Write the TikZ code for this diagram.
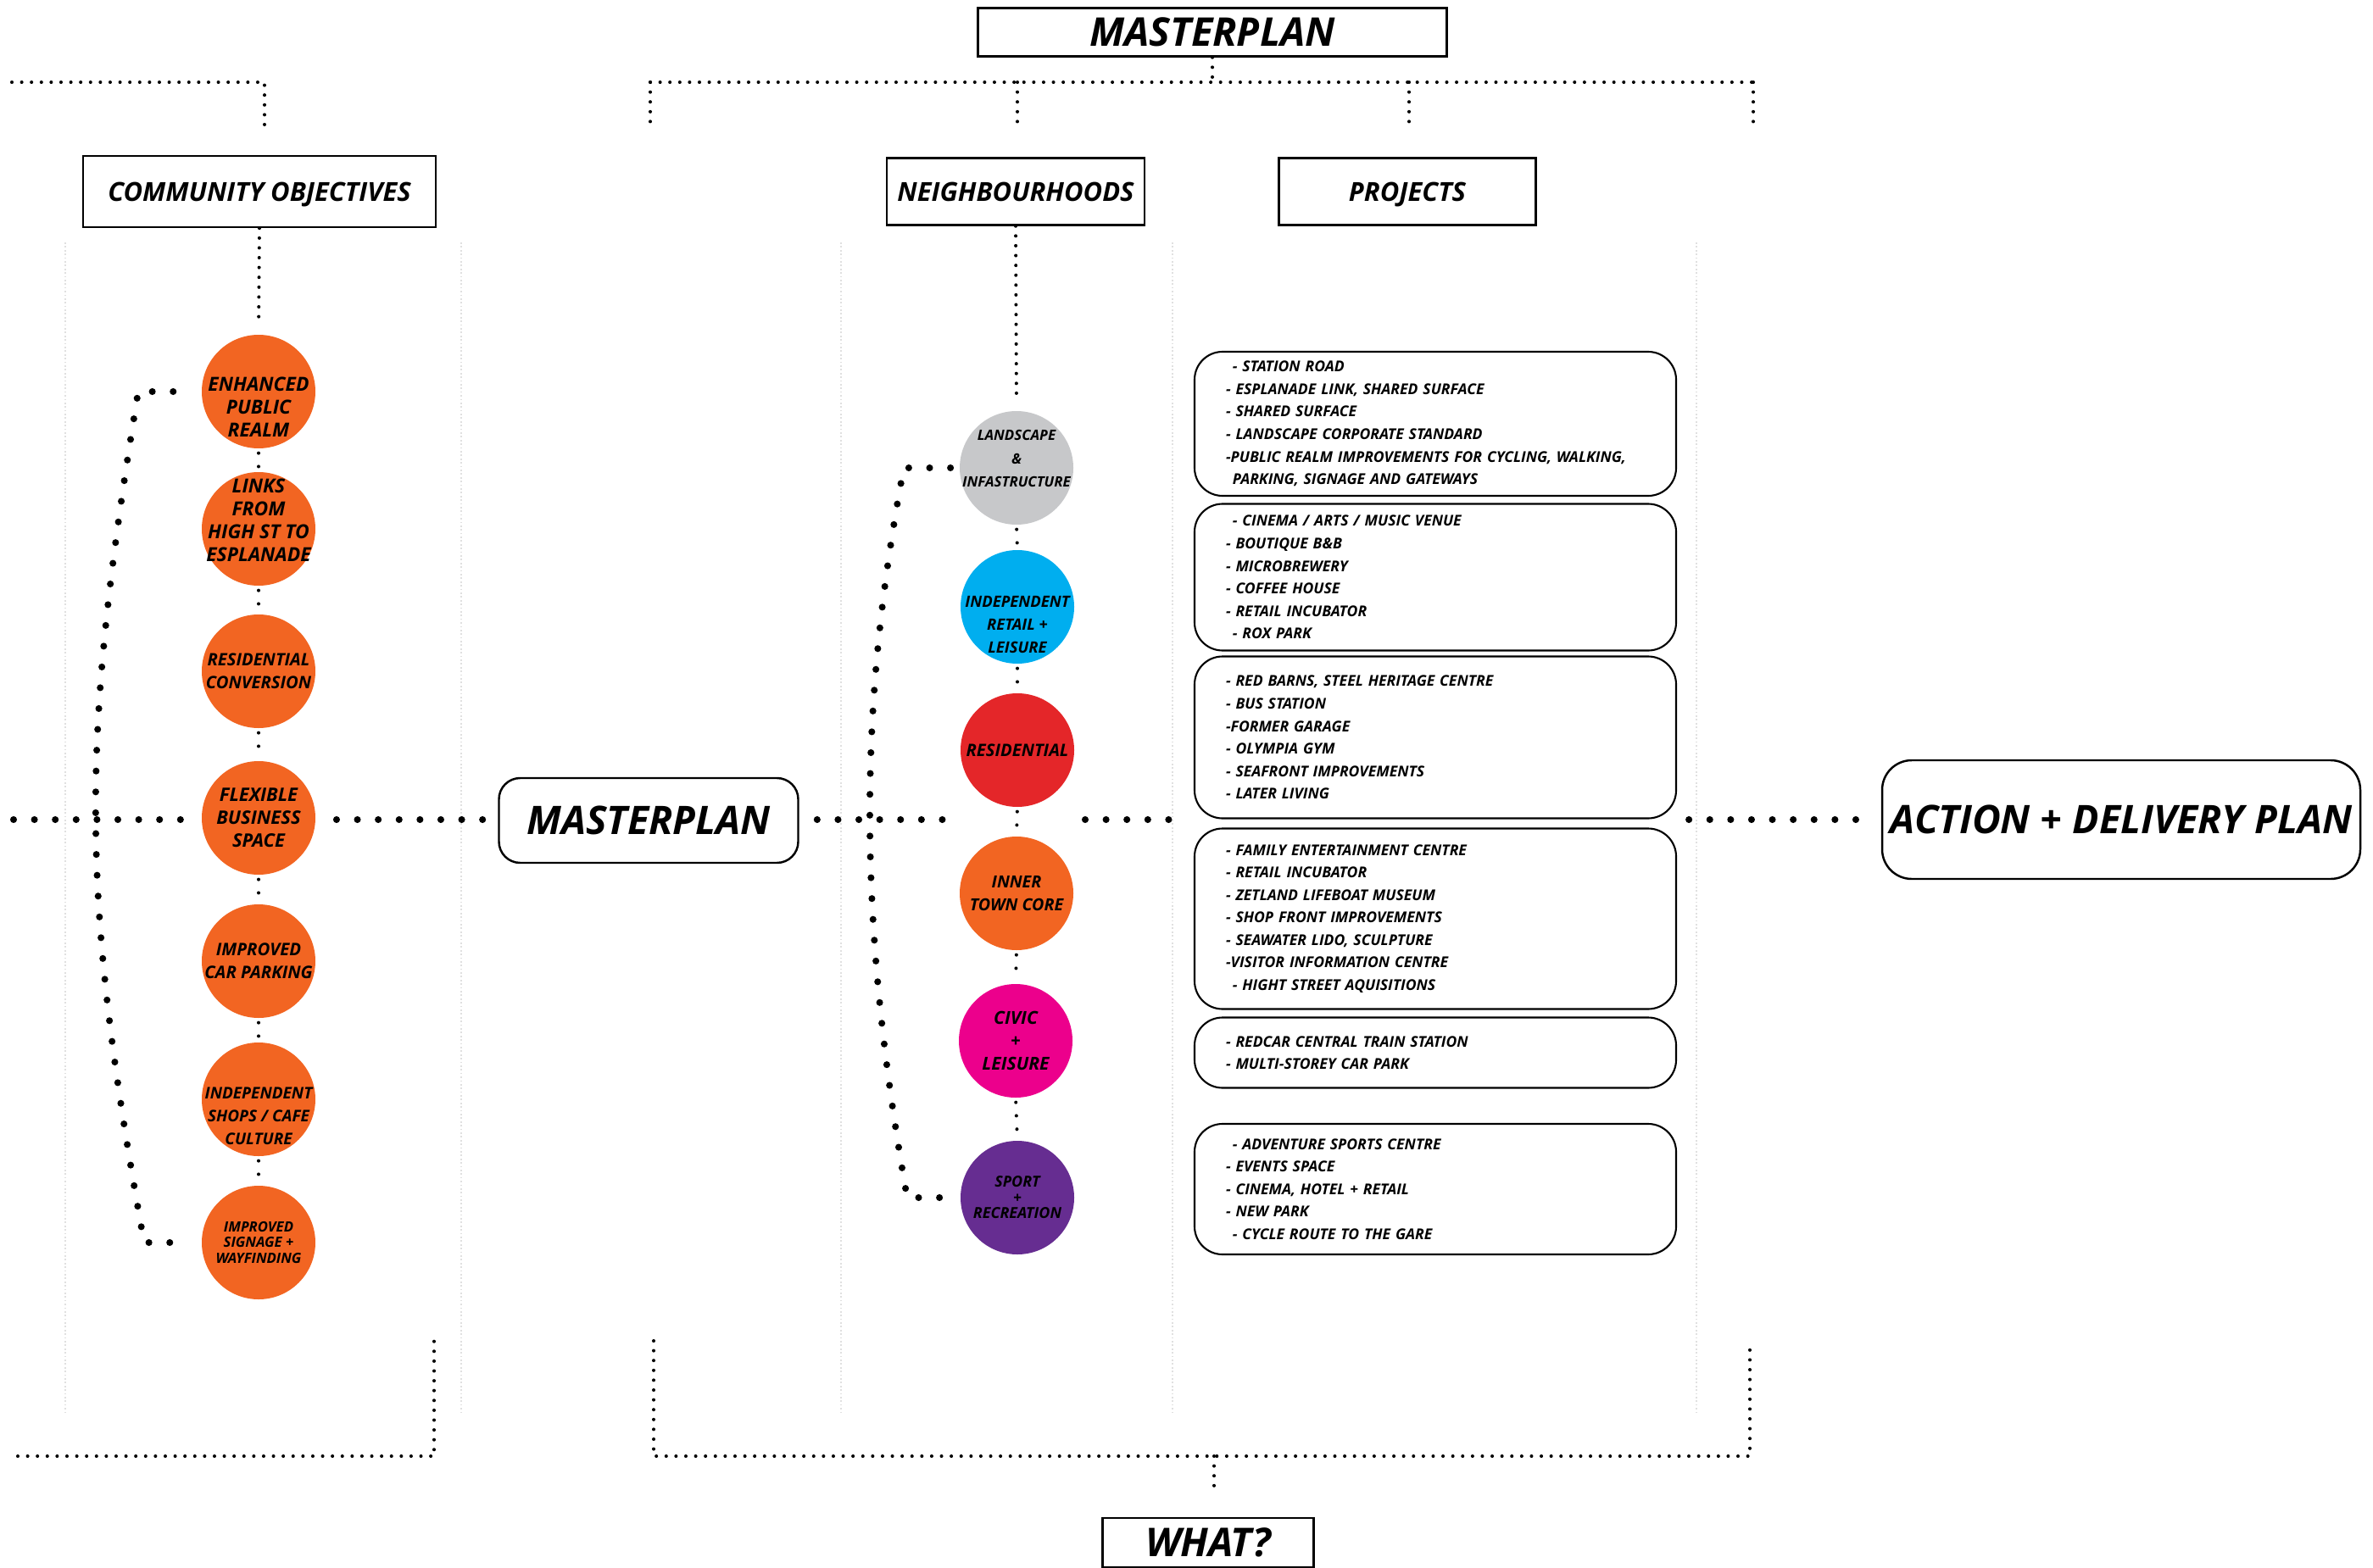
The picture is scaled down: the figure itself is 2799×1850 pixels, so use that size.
\documentclass[tikz,border=0pt]{standalone}
\usepackage{fontspec}
\setmainfont{Open Sans}
\usetikzlibrary{positioning, calc}

\definecolor{orangec}{HTML}{F26522}
\definecolor{greyc}{HTML}{C7C8CA}
\definecolor{bluec}{HTML}{00AEEF}
\definecolor{redc}{HTML}{E42629}
\definecolor{pinkc}{HTML}{EC008C}
\definecolor{purplec}{HTML}{662D91}

\newcommand{\pind}{\hspace*{0.45em}}
\newcommand{\circfont}[1]{\bfseries\itshape\fontsize{#1}{15.4}\selectfont}

\begin{document}
\begin{tikzpicture}[x=0.2mm, y=-0.2mm,
    hdr/.style={draw, rectangle, line width=1.4pt, inner sep=0pt, text depth=0pt, align=center, font=\bfseries\itshape\fontsize{17.6}{20}\selectfont},
    bighdr/.style={hdr, font=\bfseries\itshape\fontsize{26.6}{30}\selectfont},
    roundbox/.style={draw, rectangle, line width=1.4pt, rounded corners=5mm, inner sep=0pt, text depth=0pt, align=center, font=\bfseries\itshape\fontsize{26.4}{30}\selectfont},
    circ/.style={circle, minimum size=26.8mm, inner sep=0pt, align=center, font=\circfont{11}},
    circtext/.style={align=center, inner sep=0pt},
    projbox/.style={draw, rectangle, line width=1.2pt, rounded corners=6.6mm, minimum width=113.6mm, text width=98.8mm, inner xsep=7.4mm, inner ysep=0pt, align=left, font=\bfseries\itshape\fontsize{10}{15.1}\selectfont},
    bigdots/.style={line width=4.6pt, line cap=round, dash pattern=on 0pt off 14pt},
    smalldots/.style={line width=2.3pt, line cap=round, dash pattern=on 0pt off 6.6pt},
    linkdots/.style={line width=2.3pt, line cap=round, dash pattern=on 0pt off 9pt, shorten <=3pt, shorten >=3pt},
    sepline/.style={black!12, line width=0.6pt, dash pattern=on 1pt off 1.5pt}
  ]

  \useasboundingbox (0,0) rectangle (2799,1850);

  % column separators
  \foreach \sx in {77,544,992,1383,2001}
    \draw[sepline] (\sx,286) -- (\sx,1667);

  % headers
  \node[bighdr, minimum width=110.6mm, minimum height=11.4mm] (mptop) at (1430,38) {MASTERPLAN};
  \node[hdr, minimum width=83.2mm, minimum height=16.8mm] (comm) at (306,226) {COMMUNITY OBJECTIVES};
  \node[hdr, minimum width=60.8mm, minimum height=15.8mm] (nbh) at (1198,226) {NEIGHBOURHOODS};
  \node[hdr, minimum width=60.6mm, minimum height=15.8mm] (proj) at (1660,226) {PROJECTS};
  \node[bighdr, minimum width=49.8mm, minimum height=11.6mm] (what) at (1425,1820) {WHAT?};

  % middle and right boxes
  \node[roundbox, minimum width=70.6mm, minimum height=20mm] (mp) at (765,968) {MASTERPLAN};
  \node[roundbox, rounded corners=7mm, minimum width=112.8mm, minimum height=28mm] (act) at (2502,967) {ACTION + DELIVERY PLAN};

  % community objectives
  \node[circ, fill=orangec, label={[circtext, font=\circfont{13}, yshift=-3.6mm]center:ENHANCED\\PUBLIC\\REALM}] (enh) at (305,462) {};
  \node[circ, fill=orangec, label={[circtext, font=\circfont{13}, yshift=2mm]center:LINKS\\FROM\\HIGH ST TO\\ESPLANADE}] (lnk) at (305,624) {};
  \node[circ, fill=orangec, font=\circfont{11.5}] (conv) at (305,792) {RESIDENTIAL\\CONVERSION};
  \node[circ, fill=orangec, font=\circfont{12.5}] (flex) at (305,965) {FLEXIBLE\\BUSINESS\\SPACE};
  \node[circ, fill=orangec, font=\circfont{11.6}] (park) at (305,1134) {IMPROVED\\CAR PARKING};
  \node[circ, fill=orangec, label={[circtext, font=\circfont{10.8}, yshift=-4mm]center:INDEPENDENT\\SHOPS / CAFE\\CULTURE}] (shop) at (305,1297) {};
  \node[circ, fill=orangec, font=\bfseries\itshape\fontsize{9.5}{10.5}\selectfont] (sign) at (305,1466) {IMPROVED\\SIGNAGE +\\WAYFINDING};

  % neighbourhoods
  \node[circ, fill=greyc, label={[circtext, font=\circfont{9.6}, yshift=2.2mm]center:LANDSCAPE\\\&\\INFASTRUCTURE}] (land) at (1199,552) {};
  \node[circ, fill=bluec, label={[circtext, font=\circfont{10.5}, yshift=-4.2mm]center:INDEPENDENT\\RETAIL +\\LEISURE}] (ret) at (1200,716) {};
  \node[circ, fill=redc, font=\circfont{11.5}] (res) at (1200,885) {RESIDENTIAL};
  \node[circ, fill=orangec, font=\circfont{11.2}] (core) at (1199,1054) {INNER\\TOWN CORE};
  \node[circ, fill=pinkc, font=\circfont{12}] (civ) at (1198,1228) {CIVIC\\+\\LEISURE};
  \node[circ, fill=purplec, font=\bfseries\itshape\fontsize{10.2}{10.5}\selectfont] (sport) at (1200,1413) {SPORT\\+\\RECREATION};

  % projects
  \node[projbox, minimum height=34mm] (b1) at (1693,500) {\pind- STATION ROAD\\- ESPLANADE LINK, SHARED SURFACE\\- SHARED SURFACE\\- LANDSCAPE CORPORATE STANDARD\\-PUBLIC REALM IMPROVEMENTS FOR CYCLING, WALKING,\\\pind PARKING, SIGNAGE AND GATEWAYS};
  \node[projbox, minimum height=34.6mm] (b2) at (1693,681) {\pind- CINEMA / ARTS / MUSIC VENUE\\- BOUTIQUE B\&B\\- MICROBREWERY\\- COFFEE HOUSE\\- RETAIL INCUBATOR\\\pind- ROX PARK};
  \node[projbox, minimum height=38.2mm] (b3) at (1693,870) {- RED BARNS, STEEL HERITAGE CENTRE\\- BUS STATION\\-FORMER GARAGE\\- OLYMPIA GYM\\- SEAFRONT IMPROVEMENTS\\- LATER LIVING};
  \node[projbox, minimum height=42.6mm] (b4) at (1693,1084) {- FAMILY ENTERTAINMENT CENTRE\\- RETAIL INCUBATOR\\- ZETLAND LIFEBOAT MUSEUM\\- SHOP FRONT IMPROVEMENTS\\- SEAWATER LIDO, SCULPTURE\\-VISITOR INFORMATION CENTRE\\\pind- HIGHT STREET AQUISITIONS};
  \node[projbox, minimum height=16.6mm] (b5) at (1693,1242) {- REDCAR CENTRAL TRAIN STATION\\- MULTI-STOREY CAR PARK};
  \node[projbox, minimum height=30.8mm] (b6) at (1693,1403) {\pind- ADVENTURE SPORTS CENTRE\\- EVENTS SPACE\\- CINEMA, HOTEL + RETAIL\\- NEW PARK\\\pind- CYCLE ROUTE TO THE GARE};

  % top bracket
  \coordinate (topl) at (767,97);
  \coordinate (topr) at (2068,97);
  \coordinate (lbar) at (14,97);
  \draw[smalldots] (mptop.south) -- (mptop.south |- topl);
  \draw[smalldots] (topl) -- (topr);
  \foreach \tx in {767,1200,1662,2068}
    \draw[smalldots] (\tx,97) -- ++(0,57);
  \draw[smalldots] (lbar) -- (312,97) -- (312,154);

  % bottom bracket
  \coordinate (botl) at (21,1718);
  \coordinate (botm) at (1432,1718);
  \draw[smalldots] (botl) -- (512,1718) -- (512,1582);
  \draw[smalldots] (771,1582) -- (771,1718) -- (2064,1718) -- (2064,1582);
  \draw[smalldots] (botm) -- ++(0,45);

  % column stems
  \draw[smalldots, shorten >=11pt] (comm.south) -- (enh.north);
  \draw[smalldots, shorten >=9pt] (nbh.south) -- (land.north);

  % links between circles
  \foreach \a/\b in {enh/lnk, lnk/conv, conv/flex, flex/park, park/shop, shop/sign, land/ret, ret/res, res/core, core/civ, civ/sport}
    \draw[linkdots] (\a.south) -- (\b.north);

  % side brackets
  \draw[bigdots, shorten <=19pt, shorten >=19pt] (enh.west) -- (163,462) .. controls (95,880) and (95,1050) .. (170,1466) -- (sign.west);
  \draw[bigdots, shorten <=6pt, shorten >=6pt] (land.west) -- (1066,552) .. controls (1012,840) and (1012,1084) .. (1070,1413) -- (sport.west);

  % main line
  \coordinate (mainl) at (16,967);
  \coordinate (nbl) at (1115,967);
  \coordinate (nbr) at (1280,967);
  \draw[bigdots, shorten >=8pt] (mainl) -- (mainl -| flex.west);
  \draw[bigdots, shorten <=14pt, shorten >=9pt] (flex.east |- mainl) -- (mainl -| mp.west);
  \draw[bigdots, shorten <=12pt] (mainl -| mp.east) -- (nbl);
  \draw[bigdots, shorten >=7pt] (nbr) -- (mainl -| b3.west);
  \draw[bigdots, shorten <=8pt, shorten >=12pt] (mainl -| b3.east) -- (act.west);

\end{tikzpicture}
\end{document}
